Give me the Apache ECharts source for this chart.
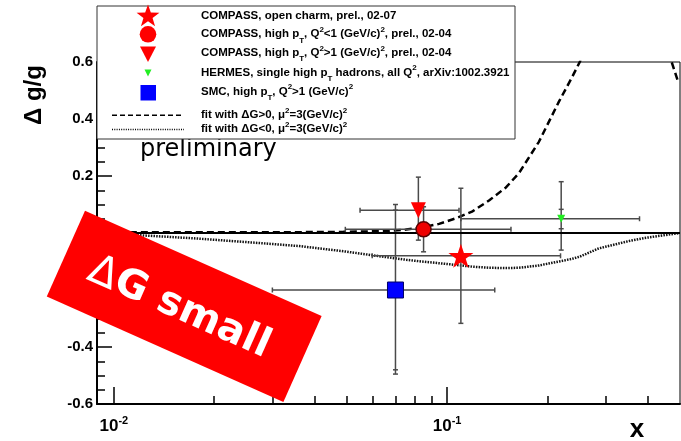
<!DOCTYPE html>
<html>
<head>
<meta charset="utf-8">
<script src="https://cdn.jsdelivr.net/npm/echarts@6/dist/echarts.min.js"></script>
<style>
  html, body { margin: 0; padding: 0; background: #fff; }
  #c { width: 681px; height: 441px; }
</style>
</head>
<body>
<div id="c"></div>
<script>
// Gluon polarisation Δg/g versus x: measurements with error bars and two NLO fits

// axis ranges and ticks
const xMin = 0.0089;
const xMax = 0.5;
const xMajorTicks = [0.01, 0.1];
const xMajorExponents = ['-2', '-1'];
const xMinorTicks = [0.02, 0.03, 0.04, 0.05, 0.06, 0.07, 0.08, 0.09, 0.2, 0.3, 0.4];
const yTickValues = [-0.6, -0.4, -0.2, 0, 0.2, 0.4, 0.6];
const yTickLabels = ['-0.6', '-0.4', '-0.2', '0', '0.2', '0.4', '0.6'];

// measurements (same order in every array)
const seriesNames = [
  'COMPASS open charm',
  'COMPASS high pT Q2<1',
  'COMPASS high pT Q2>1',
  'HERMES',
  'SMC'
];
const pointX   = [0.11,   0.085,  0.082,  0.22,  0.07];
const pointY   = [-0.08,  0.013,  0.08,   0.05,  -0.20];
const xErrLow  = [0.0596, 0.0495, 0.0548, 0.110, 0.0299];
const xErrHigh = [0.219,  0.1555, 0.1086, 0.378, 0.139];
const yErrLow  = [-0.317, -0.066, -0.025, -0.06, -0.495];
const yErrHigh = [0.157,  0.092,  0.196,  0.18,  0.10];
const yStatLow  = [null, null, null, 0.015, -0.48];
const yStatHigh = [null, null, null, 0.083, 0.08];

// fit curves sampled in x
const fitX = [0.00889, 0.01164, 0.0176, 0.02793, 0.03606, 0.04883, 0.0596, 0.067, 0.0754,
  0.0824, 0.0946, 0.1064, 0.1188, 0.1336, 0.1502, 0.1643, 0.1886, 0.2164, 0.2367, 0.2501,
  0.2852, 0.3273, 0.358, 0.389, 0.4464, 0.4719, 0.4951];
const fitPositive = [0.003, 0.003, 0.003, 0.003, 0.003, 0.004, 0.006, 0.008, 0.012,
  0.018, 0.032, 0.052, 0.075, 0.114, 0.16, 0.21, 0.32, 0.46, 0.545, 0.6,
  0.76, 0.92, 0.98, 0.99, 0.75, 0.6, 0.526];
const fitNegative = [-0.004, -0.007, -0.019, -0.036, -0.046, -0.064, -0.078, -0.086, -0.094,
  -0.099, -0.106, -0.112, -0.118, -0.122, -0.123, -0.122, -0.114, -0.100, -0.091, -0.083,
  -0.054, -0.037, -0.026, -0.018, -0.008, -0.004, -0.001];

const FONT = '"Liberation Sans", Arial, Helvetica, sans-serif';
const SANS = '"DejaVu Sans", Verdana, sans-serif';
const STAR = 'path://M50,0 L61.8,35.4 L98.9,35.4 L68.9,57.3 L80.3,92.7 L50,70.8 L19.7,92.7 L31.1,57.3 L1.1,35.4 L38.2,35.4 Z';

const markerStyles = [
  { symbol: STAR, symbolSize: [25, 24], symbolRotate: 0, itemStyle: { color: '#ff0000', opacity: 1 } },
  { symbol: 'circle', symbolSize: 15, symbolRotate: 0, itemStyle: { color: '#ee0000', borderColor: '#5a0000', borderWidth: 1.5, opacity: 1 } },
  { symbol: 'triangle', symbolSize: [15, 16], symbolRotate: 180, itemStyle: { color: '#ff0000', opacity: 1 } },
  { symbol: 'triangle', symbolSize: [8, 8], symbolRotate: 180, itemStyle: { color: '#22ee22', opacity: 1 } },
  { symbol: 'rect', symbolSize: 16, symbolRotate: 0, itemStyle: { color: '#0000ff', borderColor: '#000066', borderWidth: 1, opacity: 1 } }
];

const chart = echarts.init(document.getElementById('c'));

// legend icon helpers
function starPoints(cx, cy, rOut, rIn) {
  const pts = [];
  for (let k = 0; k < 10; k++) {
    const r = k % 2 === 0 ? rOut : rIn;
    const a = -Math.PI / 2 + k * Math.PI / 5;
    pts.push([cx + r * Math.cos(a), cy + r * Math.sin(a)]);
  }
  return pts;
}

const richLegend = {
  sup: { fontFamily: FONT, fontWeight: 'bold', fontSize: 8, verticalAlign: 'top', height: 7 },
  sub: { fontFamily: FONT, fontWeight: 'bold', fontSize: 8, verticalAlign: 'bottom', height: 4 }
};
const legendTexts = [
  'COMPASS, open charm, prel., 02-07',
  'COMPASS, high p{sub|T}, Q{sup|2}<1 (GeV/c){sup|2}, prel., 02-04',
  'COMPASS, high p{sub|T}, Q{sup|2}>1 (GeV/c){sup|2}, prel., 02-04',
  'HERMES, single high p{sub|T} hadrons, all Q{sup|2}, arXiv:1002.3921',
  'SMC, high p{sub|T}, Q{sup|2}>1 (GeV/c){sup|2}',
  'fit with ΔG>0, μ{sup|2}=3(GeV/c){sup|2}',
  'fit with ΔG<0, μ{sup|2}=3(GeV/c){sup|2}'
];
const legendRowY = [16, 34.3, 53.2, 72.5, 91.6, 115, 129.2];

const legendGraphics = [
  { type: 'rect', shape: { x: 97, y: 6, width: 418, height: 133 },
    style: { fill: '#fff', stroke: '#333', lineWidth: 1 }, z: 100 },
  { type: 'polygon', shape: { points: starPoints(148, 16.5, 12, 4.8) }, style: { fill: '#ff0000' }, z: 101 },
  { type: 'circle', shape: { cx: 148, cy: 34.3, r: 8.3 }, style: { fill: '#ff0000' }, z: 101 },
  { type: 'polygon', shape: { points: [[140, 46.5], [156, 46.5], [148, 62]] }, style: { fill: '#ff0000' }, z: 101 },
  { type: 'polygon', shape: { points: [[144.5, 69.5], [151.5, 69.5], [148, 76.5]] }, style: { fill: '#22ee22' }, z: 101 },
  { type: 'rect', shape: { x: 140.5, y: 85, width: 15.5, height: 15.5 }, style: { fill: '#0000ff' }, z: 101 },
  { type: 'line', shape: { x1: 112, y1: 115.3, x2: 184, y2: 115.3 },
    style: { stroke: '#000', lineWidth: 1.5, lineDash: [5, 3] }, z: 101 },
  { type: 'line', shape: { x1: 112, y1: 129.5, x2: 184, y2: 129.5 },
    style: { stroke: '#000', lineWidth: 1.5, lineDash: [1, 1.3] }, z: 101 }
];
legendTexts.forEach((t, i) => {
  legendGraphics.push({
    type: 'text', x: 201, y: legendRowY[i], z: 101,
    style: {
      text: t, rich: richLegend, fill: '#000',
      fontFamily: FONT, fontWeight: 'bold', fontSize: 11.5,
      lineHeight: 16, align: 'left', verticalAlign: 'middle'
    }
  });
});

const option = {
  animation: false,
  backgroundColor: '#fff',
  grid: { left: 97, right: 1, top: 62, bottom: 37, show: true, borderColor: '#000', borderWidth: 1 },
  xAxis: [
    {
      type: 'log', logBase: 10, min: xMin, max: xMax, position: 'bottom',
      axisLine: { show: true, onZero: false, lineStyle: { color: '#000', width: 2 } },
      axisTick: { show: true, inside: true, length: 17, customValues: xMajorTicks,
        lineStyle: { color: '#000', width: 1.5 } },
      axisLabel: {
        show: true, customValues: xMajorTicks, margin: 12, color: '#000',
        formatter: v => {
          const i = xMajorTicks.findIndex(t => Math.abs(t - v) / t < 1e-6);
          return '{b|10}{s|' + xMajorExponents[i] + '}';
        },
        rich: {
          b: { fontFamily: FONT, fontWeight: 'bold', fontSize: 17, color: '#000', lineHeight: 20 },
          s: { fontFamily: FONT, fontWeight: 'bold', fontSize: 11, color: '#000', verticalAlign: 'top', height: 10 }
        }
      },
      splitLine: { show: false }
    },
    {
      type: 'log', logBase: 10, min: xMin, max: xMax, position: 'bottom',
      axisLine: { show: false, onZero: false },
      axisTick: { show: true, inside: true, length: 8, customValues: xMinorTicks,
        lineStyle: { color: '#000', width: 1.5 } },
      axisLabel: { show: false },
      splitLine: { show: false }
    }
  ],
  yAxis: {
    type: 'value', min: -0.6, max: 0.6, interval: 0.2,
    axisLine: { show: true, onZero: false, lineStyle: { color: '#000', width: 2 } },
    axisTick: { show: true, inside: true, length: 15, lineStyle: { color: '#000', width: 1.5 } },
    minorTick: { show: true, splitNumber: 4, length: 8, lineStyle: { color: '#000', width: 1.5 } },
    splitLine: { show: false },
    minorSplitLine: { show: false },
    axisLabel: {
      margin: 4, fontFamily: FONT, fontWeight: 'bold', fontSize: 15, color: '#000',
      formatter: v => {
        const i = yTickValues.findIndex(t => Math.abs(t - v) < 1e-6);
        return i >= 0 ? yTickLabels[i] : '';
      }
    }
  },
  graphic: {
    elements: [
      ...legendGraphics,
      {
        type: 'text', x: 140, y: 150, z: 90,
        style: { text: 'preliminary', fill: '#000', fontFamily: SANS,
          fontSize: 24, align: 'left', verticalAlign: 'middle' }
      },
      {
        type: 'text', x: 34, y: 95, rotation: Math.PI / 2, z: 90,
        style: { text: 'Δ g/g', fill: '#000', fontFamily: FONT, fontWeight: 'bold',
          fontSize: 24, align: 'center', verticalAlign: 'middle' }
      },
      {
        type: 'text', x: 637, y: 430, z: 90,
        style: { text: 'x', fill: '#000', fontFamily: FONT, fontWeight: 'bold',
          fontSize: 26, align: 'center', verticalAlign: 'middle' }
      },
      {
        type: 'group', x: 184.2, y: 306.3, rotation: -24 * Math.PI / 180, z: 120,
        children: [
          { type: 'rect', shape: { x: -129.5, y: -47, width: 259, height: 94 },
            style: { fill: '#ff0000' }, z: 120 },
          { type: 'text', x: -4, y: 4, z: 121,
            style: { text: '{d|Δ}{g|G small}', fill: '#fff', align: 'center', verticalAlign: 'middle',
              rich: {
                d: { fontFamily: SANS, fontWeight: 'normal', fontSize: 42, color: '#fff' },
                g: { fontFamily: SANS, fontWeight: 'bold', fontSize: 40, color: '#fff' }
              } } }
        ]
      }
    ]
  },
  series: [
    {
      name: 'zero', type: 'line', data: [], xAxisIndex: 0, z: 2,
      markLine: {
        silent: true, symbol: 'none', label: { show: false },
        lineStyle: { color: '#000', width: 2, type: 'solid' },
        data: [{ yAxis: 0 }]
      }
    },
    {
      name: 'fit with ΔG>0', type: 'line', xAxisIndex: 0, showSymbol: false, clip: true, z: 3,
      data: fitX.map((x, i) => [x, fitPositive[i]]),
      lineStyle: { color: '#000', width: 2.5, type: [7, 4] }
    },
    {
      name: 'fit with ΔG<0', type: 'line', xAxisIndex: 0, showSymbol: false, clip: true, z: 3,
      data: fitX.map((x, i) => [x, fitNegative[i]]),
      lineStyle: { color: '#111', width: 2.5, type: [1.5, 1.2] }
    },
    {
      name: 'errors', type: 'custom', xAxisIndex: 0, z: 4,
      data: pointX.map((x, i) => [x, pointY[i]]),
      renderItem: (params, api) => {
        const i = params.dataIndex;
        const c = api.coord([pointX[i], pointY[i]]);
        const xl = api.coord([xErrLow[i], pointY[i]])[0];
        const xh = api.coord([xErrHigh[i], pointY[i]])[0];
        const yl = api.coord([pointX[i], yErrLow[i]])[1];
        const yh = api.coord([pointX[i], yErrHigh[i]])[1];
        const st = { stroke: '#4a4a4a', lineWidth: 1.5 };
        const cap = 2.5;
        const children = [
          { type: 'line', shape: { x1: xl, y1: c[1], x2: xh, y2: c[1] }, style: st },
          { type: 'line', shape: { x1: c[0], y1: yl, x2: c[0], y2: yh }, style: st },
          { type: 'line', shape: { x1: xl, y1: c[1] - cap, x2: xl, y2: c[1] + cap }, style: st },
          { type: 'line', shape: { x1: xh, y1: c[1] - cap, x2: xh, y2: c[1] + cap }, style: st },
          { type: 'line', shape: { x1: c[0] - cap, y1: yl, x2: c[0] + cap, y2: yl }, style: st },
          { type: 'line', shape: { x1: c[0] - cap, y1: yh, x2: c[0] + cap, y2: yh }, style: st }
        ];
        if (yStatLow[i] !== null) {
          const sl = api.coord([pointX[i], yStatLow[i]])[1];
          const sh = api.coord([pointX[i], yStatHigh[i]])[1];
          children.push({ type: 'line', shape: { x1: c[0] - cap, y1: sl, x2: c[0] + cap, y2: sl }, style: st });
          children.push({ type: 'line', shape: { x1: c[0] - cap, y1: sh, x2: c[0] + cap, y2: sh }, style: st });
        }
        return { type: 'group', children };
      }
    },
    ...seriesNames.map((name, i) => ({
      name, type: 'scatter', xAxisIndex: 0, z: 5,
      data: [[pointX[i], pointY[i]]],
      symbol: markerStyles[i].symbol,
      symbolSize: markerStyles[i].symbolSize,
      symbolRotate: markerStyles[i].symbolRotate,
      itemStyle: markerStyles[i].itemStyle
    }))
  ]
};

chart.setOption(option);
</script>
</body>
</html>
